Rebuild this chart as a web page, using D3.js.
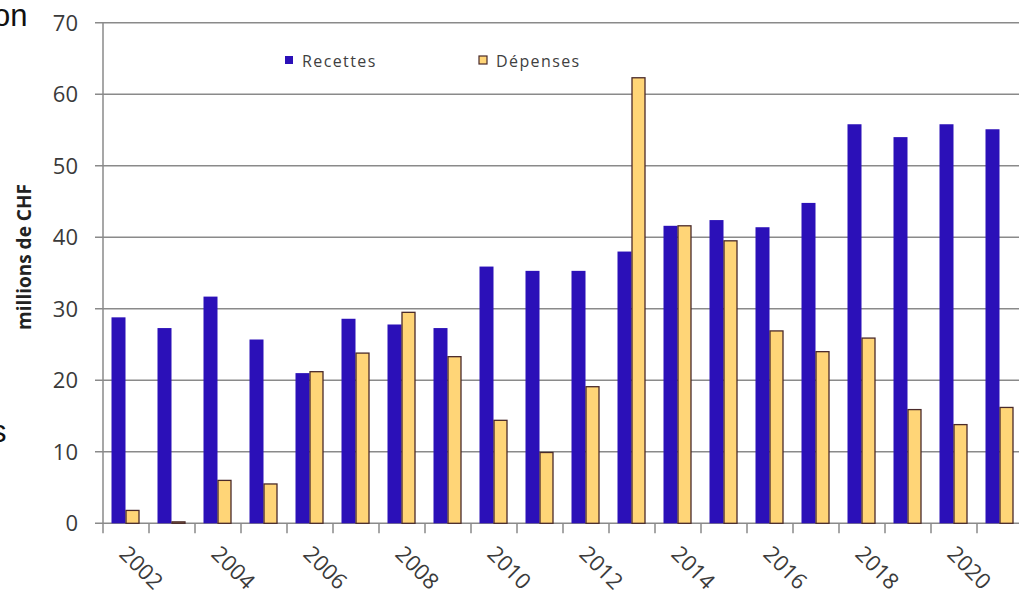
<!DOCTYPE html>
<html>
<head>
<meta charset="utf-8">
<script src="https://cdn.jsdelivr.net/npm/d3@7"></script>
<style>
  body { margin: 0; background: #fff; overflow: hidden; }
  svg { display: block; }
</style>
</head>
<body>
<div id="chart"></div>
<script>
const years = ["2002", "2003", "2004", "2005", "2006", "2007", "2008", "2009", "2010", "2011",
    "2012", "2013", "2014", "2015", "2016", "2017", "2018", "2019", "2020", "2021"];
const recettes = [28.8, 27.3, 31.7, 25.7, 21.0, 28.6, 27.8, 27.3, 35.9, 35.3,
    35.3, 38.0, 41.6, 42.4, 41.4, 44.8, 55.8, 54.0, 55.8, 55.1];
const depenses = [1.8, 0.2, 6.0, 5.5, 21.2, 23.8, 29.5, 23.3, 14.4, 9.9,
    19.1, 62.3, 41.6, 39.5, 26.9, 24.0, 25.9, 15.9, 13.8, 16.2];
const seriesNames = ["Recettes", "Dépenses"];
const yTicks = [0, 10, 20, 30, 40, 50, 60, 70];
const xLabels = ["2002", "2004", "2006", "2008", "2010", "2012", "2014", "2016", "2018", "2020"];

const W = 1019, H = 599;
const blue = "#2b10b8", yellow = "#ffd577", edge = "#4a2a2a", grid = "#8a8a8a";

const svg = d3.select("#chart").append("svg")
    .attr("width", W)
    .attr("height", H);

const x = d3.scaleBand()
    .domain(years)
    .range([103, 1023])
    .padding(0);

const xs = d3.scaleBand()
    .domain(seriesNames)
    .range([8.5, x.bandwidth() - 9.5]);

const y = d3.scaleLinear()
    .domain([0, 70])
    .range([523.3, 22.7]);

// cut-off slide text on the left
svg.append("text")
    .attr("x", -7).attr("y", 26)
    .attr("font-family", "Liberation Sans, Arial, sans-serif")
    .attr("font-size", 31)
    .attr("fill", "#111")
    .text("on");
svg.append("text")
    .attr("x", -9).attr("y", 442)
    .attr("font-family", "Liberation Sans, Arial, sans-serif")
    .attr("font-size", 31)
    .attr("fill", "#111")
    .text("s");

// gridlines + y ticks
svg.append("g")
    .selectAll("line")
    .data(yTicks)
    .enter()
    .append("line")
    .attr("x1", 95).attr("x2", W)
    .attr("y1", d => y(d)).attr("y2", d => y(d))
    .attr("stroke", grid)
    .attr("stroke-width", 1.5);

svg.append("g")
    .selectAll("text")
    .data(yTicks)
    .enter()
    .append("text")
    .attr("x", 78)
    .attr("y", d => y(d))
    .attr("dy", "0.36em")
    .attr("text-anchor", "end")
    .attr("font-family", "Open Sans, sans-serif")
    .attr("font-size", 22)
    .attr("fill", "#3a3a3a")
    .text(d => d);

// y axis line
svg.append("line")
    .attr("x1", 103).attr("x2", 103)
    .attr("y1", y(70)).attr("y2", y(0) + 10)
    .attr("stroke", grid)
    .attr("stroke-width", 1.5);

// category ticks
svg.append("g")
    .selectAll("line")
    .data(years.slice(1))
    .enter()
    .append("line")
    .attr("x1", d => x(d)).attr("x2", d => x(d))
    .attr("y1", y(0)).attr("y2", y(0) + 10)
    .attr("stroke", grid)
    .attr("stroke-width", 1.5);

svg.append("text")
    .attr("transform", "translate(31," + 257 + ") rotate(-90)")
    .attr("text-anchor", "middle")
    .attr("font-family", "Open Sans, sans-serif")
    .attr("font-weight", "bold")
    .attr("font-size", 19)
    .attr("fill", "#222")
    .text("millions de CHF");

// bars
const groups = svg.selectAll(".year")
    .data(years)
    .enter()
    .append("g")
    .attr("class", "year")
    .attr("transform", d => `translate(${x(d)},0)`);

groups.append("rect")
    .attr("x", xs("Recettes"))
    .attr("width", xs.bandwidth())
    .attr("y", (d, i) => y(recettes[i]))
    .attr("height", (d, i) => y(0) - y(recettes[i]))
    .attr("fill", blue);

groups.append("rect")
    .attr("x", xs("Dépenses") + 0.5)
    .attr("width", xs.bandwidth() - 1)
    .attr("y", (d, i) => y(depenses[i]))
    .attr("height", (d, i) => y(0) - y(depenses[i]))
    .attr("fill", yellow)
    .attr("stroke", edge)
    .attr("stroke-width", 1.3);

// x labels
svg.append("g")
    .selectAll("text")
    .data(xLabels)
    .enter()
    .append("text")
    .attr("transform", d => `translate(${x(d) + x.bandwidth() / 2 - 8},${y(0) + 32}) rotate(45)`)
    .attr("font-family", "Open Sans, sans-serif")
    .attr("font-size", 22)
    .attr("fill", "#3a3a3a")
    .text(d => d);

// legend
const legend = [
    { name: seriesNames[0], sx: 285, tx: 302, fill: blue, stroke: "none" },
    { name: seriesNames[1], sx: 479, tx: 496, fill: yellow, stroke: edge }
];
const lg = svg.append("g");
lg.selectAll("rect")
    .data(legend)
    .enter()
    .append("rect")
    .attr("x", d => d.sx).attr("y", 56)
    .attr("width", 8).attr("height", 8)
    .attr("fill", d => d.fill)
    .attr("stroke", d => d.stroke)
    .attr("stroke-width", 1.2);
lg.selectAll("text")
    .data(legend)
    .enter()
    .append("text")
    .attr("x", d => d.tx).attr("y", 67)
    .attr("font-family", "Open Sans, sans-serif")
    .attr("font-size", 16)
    .attr("letter-spacing", 1.4)
    .attr("fill", "#404040")
    .text(d => d.name);
</script>
</body>
</html>
